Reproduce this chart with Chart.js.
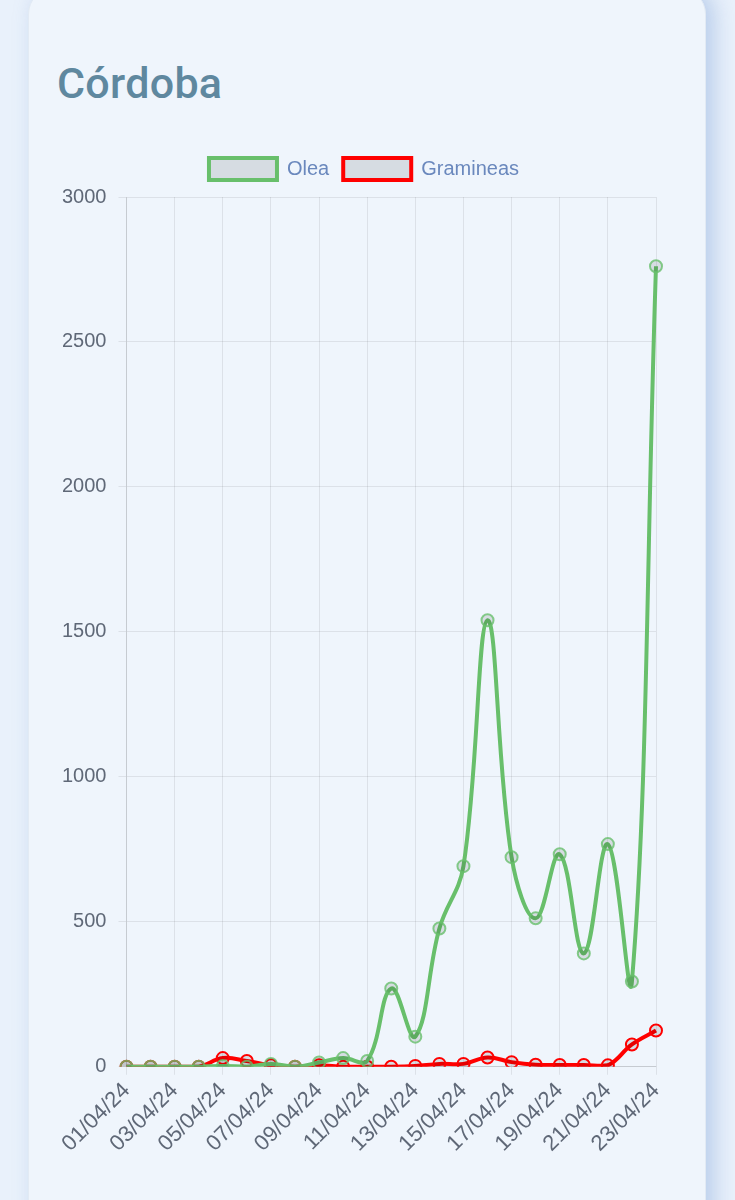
<!DOCTYPE html>
<html>
<head>
<meta charset="utf-8">
<script src="https://cdn.jsdelivr.net/npm/chart.js@4"></script>
<style>
  html, body { margin: 0; padding: 0; }
  body {
    width: 735px; height: 1200px; overflow: hidden;
    background: #e9f1fb;
    font-family: Roboto, "Liberation Sans", sans-serif;
  }
  .card {
    position: absolute; left: 28px; top: -12px;
    width: 678px; height: 1300px;
    background: #eff5fc;
    border-radius: 26px;
    box-shadow: 8px 0 22px rgba(110, 150, 210, 0.4);
    border: 1px solid #e2eaf4;
    box-sizing: border-box;
  }
  h2 {
    position: absolute; left: 28px; top: 69px; margin: 0;
    font-size: 43px; font-weight: 500; color: #5f889f;
    letter-spacing: 0.3px;
  }
  .chart-box {
    position: absolute; left: 17px; top: 155px;
    width: 632px; height: 1016px;
  }
</style>
</head>
<body>
<div class="card">
  <h2>Córdoba</h2>
  <div class="chart-box"><canvas id="polenChart"></canvas></div>
</div>
<script>
// Fechas del mes de abril
const fechas = [
    "01/04/24", "02/04/24", "03/04/24", "04/04/24", "05/04/24", "06/04/24",
    "07/04/24", "08/04/24", "09/04/24", "10/04/24", "11/04/24", "12/04/24",
    "13/04/24", "14/04/24", "15/04/24", "16/04/24", "17/04/24", "18/04/24",
    "19/04/24", "20/04/24", "21/04/24", "22/04/24", "23/04/24"
];

// Valores de polen
const olea = [0, 0, 0, 0, 3, 0, 10, 0, 15, 30, 20, 270, 104, 477, 692, 1540, 723, 512, 733, 391, 768, 294, 2761];
const gramineas = [0, 0, 0, 0, 30, 20, 5, 0, 5, 0, 0, 0, 3, 10, 10, 32, 16, 7, 6, 6, 5, 77, 125];

const yTicks = [0, 500, 1000, 1500, 2000, 2500, 3000];

const gridColor = "rgba(0, 0, 0, 0.08)";
const textColor = "#5f6877";
const fuente = "'Liberation Sans', Arial, sans-serif";

// solo se muestra una fecha de cada dos
function cadaDos(ctx, color) {
    return ctx.index % 2 === 0 ? color : "transparent";
}

// un poco más de espacio debajo de la leyenda y la leyenda algo a la derecha
const ajusteLeyenda = {
    id: "ajusteLeyenda",
    beforeInit(chart) {
        const fitOriginal = chart.legend.fit;
        chart.legend.fit = function () {
            fitOriginal.bind(chart.legend)();
            this.height += 7;
        };
    },
    afterLayout(chart) {
        chart.legend.left += 11;
        chart.legend.right += 11;
    },
};

const ctx = document.getElementById("polenChart").getContext("2d");
const polenChart = new Chart(ctx, {
    type: "line",
    data: {
        labels: fechas,
        datasets: [
            {
                label: "Olea",
                data: olea,
                borderColor: "#68bf6b",
                backgroundColor: "rgba(0, 0, 0, 0.1)",
                borderWidth: 4,
                tension: 0.4,
                pointRadius: 6,
                pointBorderWidth: 2,
                pointBorderColor: "rgba(104, 191, 107, 0.8)",
            },
            {
                label: "Gramineas",
                data: gramineas,
                borderColor: "#ff0000",
                backgroundColor: "rgba(0, 0, 0, 0.1)",
                borderWidth: 4,
                tension: 0.4,
                pointRadius: 6,
                pointBorderWidth: 2,
            },
        ],
    },
    plugins: [ajusteLeyenda],
    options: {
        responsive: true,
        maintainAspectRatio: false,
        animation: false,
        layout: { padding: { left: 4, right: 22, top: 0, bottom: 0 } },
        plugins: {
            legend: {
                labels: {
                    boxWidth: 68,
                    boxHeight: 22,
                    padding: 14,
                    color: "#6a88bd",
                    font: { family: fuente, size: 20 },
                },
            },
        },
        scales: {
            x: {
                grid: {
                    color: (c) => cadaDos(c, gridColor),
                    tickColor: (c) => cadaDos(c, gridColor),
                },
                ticks: {
                    autoSkip: false,
                    minRotation: 45,
                    maxRotation: 45,
                    color: textColor,
                    font: { family: fuente, size: 22 },
                    callback: function (value, index) {
                        return index % 2 === 0 ? fechas[index] : "";
                    },
                },
            },
            y: {
                min: yTicks[0],
                max: yTicks[yTicks.length - 1],
                grid: { color: gridColor },
                afterBuildTicks: (scale) => {
                    scale.ticks = yTicks.map((v) => ({ value: v }));
                },
                ticks: {
                    padding: 12,
                    color: textColor,
                    font: { family: fuente, size: 20 },
                    callback: (value) => String(value),
                },
            },
        },
    },
});
</script>
</body>
</html>
